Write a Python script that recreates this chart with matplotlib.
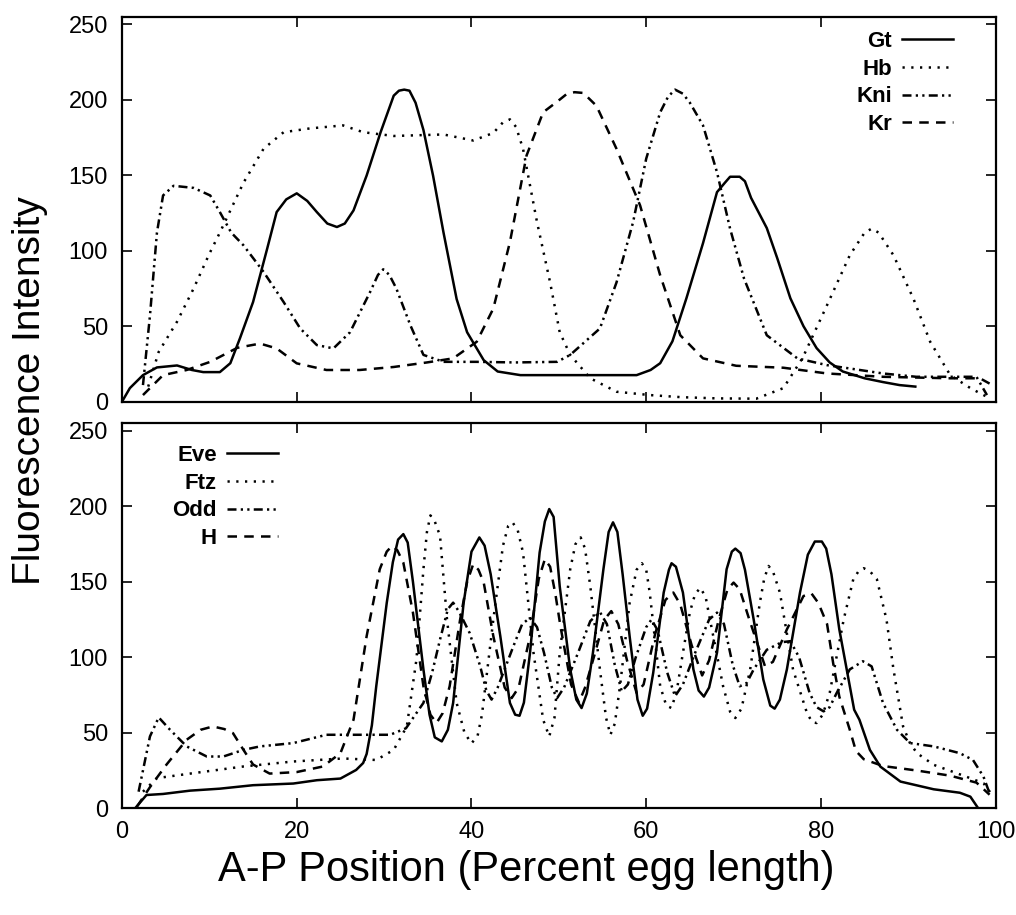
import matplotlib
matplotlib.use("Agg")
import matplotlib.pyplot as plt

plt.rcParams['font.family'] = ['Liberation Sans', 'DejaVu Sans']

# ---------------- top panel (gap genes) ----------------
gt_x = [0, 0.9, 2.4, 4.0, 6.3, 8.0, 9.3, 11.2, 12.4, 13.5, 15.0, 16.6, 17.7, 18.8, 20.0, 21.2, 22.3, 23.5, 24.6, 25.5,
        26.5, 28.0, 29.6, 31.1, 31.7, 32.3, 32.9, 33.6, 34.5, 35.6, 36.8, 38.3, 39.5, 41.4, 43.0, 45.6, 50.0, 55.0, 58.9,
        60.5, 61.6, 63.0, 64.6, 66.5, 68.1, 69.0, 69.6, 70.7, 71.3, 72.0, 73.8, 75.0, 76.5, 78.0, 79.5, 81.0, 82.5, 85.0,
        87.1, 89.0, 90.8]
gt_y = [0, 9, 17.6, 22.7, 24, 21, 19.6, 19.6, 25.5, 42, 66, 101, 125.6, 134, 138, 133, 125.6, 118, 115.7, 118,
        126.7, 149.8, 178.5, 202.7, 206, 206.7, 206, 198, 180, 149.8, 112, 68, 46, 27.5, 20, 17.6, 17.6, 17.6, 17.6,
        21, 25.5, 40, 68.5, 105, 138.8, 145, 149, 149, 146, 135, 115, 95, 68.5, 50, 35.5, 26, 20, 15.5,
        13, 11, 10]

hb_x = [3.0, 4.2, 6.3, 8.2, 10.0, 11.2, 13.9, 16.2, 18.5, 21.5, 25.3, 27.6, 31.1, 36.8, 40.2, 42.5, 43.6, 44.4, 45.1,
        45.9, 47.5, 49.0, 50.1, 51.3, 53.6, 56.6, 60.4, 64.0, 68.1, 72.6, 75.7, 77.9, 80.7, 83.3, 85.0, 85.8, 86.6,
        88.3, 90.6, 92.5, 94.8, 97.1, 98.6, 99.5]
hb_y = [10, 33, 53, 75, 98, 112, 145, 167.5, 178.5, 181, 183, 178.5, 176, 177, 173, 178, 185, 187, 182,
        167.5, 119, 79, 46, 31, 15.5, 6.6, 4.4, 3, 2.2, 2, 9, 29, 64, 97, 112, 114.6, 112,
        97, 68, 39.7, 17.6, 9, 4.4, 2]

kni_x = [2.4, 3.2, 4.0, 4.7, 5.9, 8.2, 10.1, 11.2, 12.5, 13.9, 16.2, 18.5, 20.4, 22.3, 24.2, 26.1, 28.4, 29.3, 29.9,
         30.6, 31.4, 33.0, 34.5, 36.8, 40.6, 45.0, 49.8, 51.3, 54.7, 56.6, 58.5, 60.0, 61.6, 62.5, 63.3, 64.2, 65.0,
         66.5, 68.1, 69.6, 71.2, 73.8, 77.3, 80.7, 83.3, 87.1, 90.9, 97.8, 99.0]
kni_y = [11, 57, 112, 136.6, 143, 141.6, 136.6, 125.6, 112, 103.6, 86, 66, 48.5, 37.5, 35.3, 46, 72.7, 84, 87.7,
         84, 75, 50.7, 31, 26.4, 26.4, 26, 26.4, 31, 48.5, 79, 119, 161, 191.7, 202, 206.7, 204, 198,
         183, 152, 114.6, 81.5, 44, 28.7, 24.2, 22, 18.7, 16.5, 16.5, 4.4]

kr_x = [2.4, 4.7, 7.4, 10.1, 13.2, 15.8, 17.7, 20.0, 23.4, 27.2, 31.1, 34.9, 37.9, 40.6, 42.5, 44.4, 46.3, 48.2,
        49.8, 50.9, 51.8, 52.8, 54.3, 56.6, 59.3, 61.6, 63.9, 66.5, 70.3, 75.7, 80.7, 87.1, 94.8, 98.2, 99.3]
kr_y = [4.4, 17.6, 21, 26.4, 35.7, 38.5, 35.3, 25.4, 21, 21, 23, 26, 28.7, 39.7, 61.7, 105.7, 163, 191.7,
        198.7, 203.8, 205, 204.5, 196, 167.5, 130, 83.7, 44, 28.7, 23.8, 22.5, 18.7, 16.5, 15.5, 15.5, 12]

# ---------------- bottom panel (pair-rule genes) ----------------
eve_x = [1.5, 2.8, 4.7, 7.8, 11.2, 15.0, 19.6, 22.3, 25.0, 26.8, 27.6, 28.0, 28.6, 29.1, 30.3, 31.0, 31.6, 32.2,
         32.7, 33.3, 34.5, 35.2, 35.8, 36.6, 37.3, 37.9, 39.1, 40.0, 40.9, 41.5, 42.2, 43.3, 44.4, 45.0, 45.5,
         46.0, 46.7, 47.8, 48.4, 48.9, 49.4, 50.1, 51.3, 52.0, 52.6, 53.2, 53.9, 55.1, 55.7, 56.2, 56.7, 57.3,
         58.1, 59.0, 59.6, 60.1, 60.8, 62.0, 62.6, 62.9, 63.4, 64.2, 65.4, 66.0, 66.6, 67.2, 68.1, 69.2, 69.8,
         70.2, 70.8, 71.3, 72.3, 73.4, 74.2, 74.7, 75.3, 76.1, 77.6, 78.5, 79.3, 80.1, 80.6, 81.2, 82.1, 83.8,
         84.4, 85.6, 86.8, 89.1, 92.9, 95.9, 97.1, 98.0]
eve_y = [0, 8.8, 9.5, 11.7, 13, 15.3, 16.4, 18.6, 19.7, 25.4, 30, 36, 55, 80.8, 136, 163, 178, 181.6,
         176, 150, 92, 62, 47, 44.3, 52, 69.8, 136, 170, 179.4, 174, 155, 114, 69.8, 62, 61.3,
         70, 103, 169.4, 190, 198.2, 193, 147, 92, 72, 66.4, 76, 103, 158.3, 183, 189.4, 183, 155,
         114, 72, 61.3, 66, 89.7, 142.9, 158, 162.3, 160, 142.9, 92, 78, 74, 80, 103, 158.3, 170,
         172, 169, 158, 125, 85.3, 68, 66, 72, 92, 142.9, 168, 176.7, 176.7, 172, 155, 118.5, 65.3,
         58.7, 38.7, 27.6, 17.7, 12.6, 10.3, 7.7, 0]

ftz_x = [2.4, 4.0, 8.2, 13.9, 19.6, 25.3, 29.1, 31.1, 32.6, 33.7, 34.5, 34.9, 35.3, 35.8, 36.4, 37.2, 38.3, 39.2,
         40.0, 40.7, 41.2, 42.5, 43.6, 44.2, 44.7, 45.3, 45.9, 47.1, 48.2, 48.9, 49.5, 50.1, 51.3, 51.9, 52.5,
         53.0, 53.6, 54.7, 55.4, 55.9, 56.4, 57.0, 58.1, 58.9, 59.5, 60.0, 60.4, 61.6, 62.3, 62.9, 63.5, 64.2,
         65.0, 65.6, 66.2, 66.8, 67.3, 68.8, 69.6, 70.2, 70.9, 71.9, 73.0, 73.5, 74.0, 74.5, 75.3, 76.8, 78.4,
         79.0, 79.5, 80.2, 81.0, 82.6, 83.7, 84.3, 84.9, 85.6, 86.4, 87.5, 88.3, 89.4, 90.2, 91.0, 92.9, 96.6,
         98.6, 99.7]
ftz_y = [11, 20, 23.3, 27.7, 31, 33, 32, 38.7, 54.2, 98.5, 158.3, 183, 194, 190, 180.5, 125, 69.8, 50,
         43, 48, 62, 125, 173.8, 187, 189.4, 184, 169.4, 103, 58.7, 47.6, 60, 103, 158.3, 175, 179.4,
         172, 147, 92, 60, 48.7, 56, 80.8, 136, 158, 162.3, 158, 142.9, 80.8, 68, 66.4, 78, 103,
         130, 142, 146, 140, 125, 80.8, 64, 59.8, 66, 92, 136, 152, 160.5, 157, 142.9, 92, 63.1,
         57, 56.5, 62, 76.4, 125, 151.7, 157, 159, 157, 151.7, 125, 92, 54.2, 43, 36.5, 28.8, 21,
         16.6, 8]

odd_x = [1.9, 3.2, 4.2, 5.5, 7.4, 9.7, 11.6, 13.9, 15.8, 19.6, 23.4, 25.3, 28.0, 30.7, 32.5, 34.5, 35.5, 36.4,
         37.3, 37.9, 38.6, 39.8, 41.0, 41.7, 42.3, 43.0, 44.8, 45.8, 46.7, 47.5, 48.3, 49.2, 49.8, 50.6, 52.2,
         53.6, 54.7, 55.5, 56.4, 57.2, 57.9, 58.8, 60.0, 60.6, 61.3, 62.4, 63.3, 64.2, 65.6, 67.2, 68.1, 68.9,
         69.9, 70.7, 71.5, 72.3, 73.8, 75.5, 76.5, 77.5, 78.7, 79.5, 80.3, 81.0, 81.8, 83.3, 84.8, 85.8, 87.1,
         88.7, 90.2, 92.9, 95.9, 97.4, 98.6, 99.3]
odd_y = [11, 47.6, 60.2, 52, 41, 34.3, 34.3, 38.7, 41, 43.2, 48.7, 48.7, 48.7, 48.7, 53, 69.8, 90, 111.8,
         132, 136.2, 130, 116, 94, 78, 72, 80, 107.4, 122, 126.2, 120, 103, 80, 73, 80, 103,
         124, 130, 122, 95, 77.5, 82, 100, 120, 125, 118, 90, 74.2, 82, 103, 125, 129.6, 122,
         95, 80.8, 83, 92, 105, 110, 110.7, 100, 76.4, 67, 64.2, 67, 76.4, 92, 97.4, 94, 69.8,
         52, 43.2, 41, 36.5, 32, 21, 9.9]

h_x = [1.7, 3.2, 5.1, 7.4, 9.0, 10.4, 11.7, 12.7, 13.9, 15.0, 16.9, 20.0, 23.0, 25.0, 26.5, 28.0, 29.5, 30.3,
       30.9, 31.5, 32.2, 33.3, 34.5, 35.3, 36.0, 36.7, 37.5, 38.7, 39.5, 40.2, 40.8, 41.4, 42.5, 43.8, 44.6,
       45.4, 46.7, 47.7, 48.4, 49.0, 49.6, 50.2, 51.4, 52.3, 53.0, 54.0, 55.2, 56.0, 56.8, 57.8, 58.9, 59.7,
       61.0, 62.2, 63.1, 63.9, 65.2, 66.4, 67.2, 68.3, 69.3, 70.0, 70.7, 71.8, 73.6, 74.5, 76.1, 78.0, 78.9,
       79.7, 80.7, 81.4, 82.1, 83.3, 84.0, 84.9, 87.1, 91.0, 94.8, 97.8, 99.3]
h_y = [1, 14, 29, 45.4, 52, 54.2, 52.5, 49.8, 38.7, 29, 23, 24, 27.7, 36.5, 58.7, 114, 158.3, 170,
       173.8, 171, 162.7, 129.6, 80.8, 62, 56.5, 63, 80.8, 125, 150, 161.7, 158, 149.5, 114, 80, 73,
       80, 114, 152, 165, 160, 142, 120, 82, 70, 80, 100, 125, 130.6, 122, 98, 76.4, 82,
       115, 138, 142.9, 135, 108, 88, 98, 125, 145, 149.5, 145, 125, 94, 97, 118.5, 140.6, 142.4,
       136, 122, 96, 74, 52, 38, 32.5, 28, 25, 21.6, 17, 9]

top_labels = ["Gt", "Hb", "Kni", "Kr"]
bottom_labels = ["Eve", "Ftz", "Odd", "H"]
x_ticks = [0, 20, 40, 60, 80, 100]
y_ticks = [0, 50, 100, 150, 200, 250]

# ---------------- styles ----------------
LW = 1.8
solid = '-'
dotted = (0, (0.9, 2.6))
dashdotdot = (0, (3.6, 1.7, 0.9, 1.7, 0.9, 1.7))
dashed = (0, (3.8, 2.9))
styles = [solid, dotted, dashdotdot, dashed]

fig = plt.figure(figsize=(10.16, 9.15), dpi=100)
W, H = 1016, 915
left = 122 / W
width = (995.7 - 122) / W
ax1 = fig.add_axes([left, 1 - 401.7 / H, width, (401.7 - 16.7) / H])
ax2 = fig.add_axes([left, 1 - 808.3 / H, width, (808.3 - 423.3) / H])

top_series = [(gt_x, gt_y), (hb_x, hb_y), (kni_x, kni_y), (kr_x, kr_y)]
bot_series = [(eve_x, eve_y), (ftz_x, ftz_y), (odd_x, odd_y), (h_x, h_y)]

for (xs, ys), lab, ls in zip(top_series, top_labels, styles):
    ax1.plot(xs, ys, color='black', lw=LW, linestyle=ls, label=lab)
for (xs, ys), lab, ls in zip(bot_series, bottom_labels, styles):
    ax2.plot(xs, ys, color='black', lw=LW, linestyle=ls, label=lab)

for ax in (ax1, ax2):
    ax.set_xlim(0, 100)
    ax.set_ylim(0, 255)
    ax.set_xticks(x_ticks)
    ax.set_yticks(y_ticks)
    ax.tick_params(direction='in', length=7, width=1.2, top=True, right=True,
                   labelsize=17, pad=10)
    ax.tick_params(axis='x', labelsize=17, pad=9)
    for sp in ax.spines.values():
        sp.set_linewidth(1.6)
ax1.tick_params(axis='x', labelbottom=False)

leg_kw = dict(frameon=False, markerfirst=False, handlelength=2.3, handletextpad=0.45,
              labelspacing=0.3, borderpad=0, borderaxespad=0,
              prop={'weight': 'bold', 'size': 16})
l1 = ax1.legend(loc='upper right', bbox_to_anchor=(953 / W, 1 - 31 / H),
                bbox_transform=fig.transFigure, **leg_kw)
l2 = ax2.legend(loc='upper right', bbox_to_anchor=(278 / W, 1 - 445 / H),
                bbox_transform=fig.transFigure, **leg_kw)

fig.text(30 / W, 1 - 391 / H, "Fluorescence Intensity", rotation=90,
         ha='center', va='center', fontsize=28)
fig.text(526 / W, 1 - 870 / H, "A-P Position (Percent egg length)",
         ha='center', va='center', fontsize=30)

fig.savefig("out.png", dpi=100)
